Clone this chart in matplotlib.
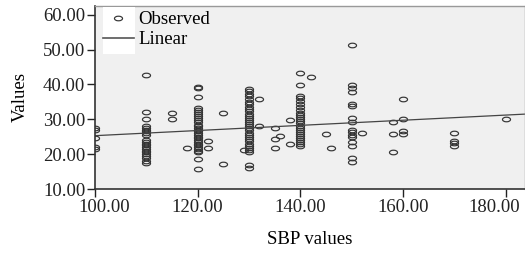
import numpy as np
import matplotlib
matplotlib.use("Agg")
import matplotlib.pyplot as plt
from matplotlib.path import Path
from matplotlib.patches import Rectangle
from matplotlib.lines import Line2D
from matplotlib.transforms import ScaledTranslation

# Observed values, grouped by SBP value
sbp_levels = [100, 110, 115, 117.9, 120, 122, 125, 129, 130, 132, 135, 136, 138, 140, 142,
              145, 146, 150, 152, 158, 160, 170, 180]
values_by_level = [
    [27.5, 27.0, 24.5, 22.0, 21.5],
    [42.8, 32.2, 30.2, 28.0, 27.5, 27.0, 26.5, 26.0, 25.5, 24.0, 23.5, 23.0, 22.5, 22.0,
     21.5, 21.0, 20.5, 20.0, 19.5, 19.0, 18.0, 17.5],
    [31.7, 30.0],
    [21.7],
    [39.3, 39.0, 36.5, 33.3, 32.8, 32.2, 31.6, 31.0, 30.4, 29.8, 29.2, 28.5, 28.0, 27.5,
     27.0, 26.5, 26.0, 25.5, 25.0, 24.5, 24.0, 23.5, 23.0, 22.5, 22.0, 21.5, 21.0, 20.6,
     18.5, 15.7],
    [23.9, 21.9],
    [31.7, 17.2],
    [21.2],
    [38.7, 38.0, 37.3, 36.6, 35.8, 35.0, 34.4, 33.6, 33.0, 32.4, 31.6, 31.0, 30.4, 29.8,
     29.2, 28.6, 28.0, 27.4, 26.8, 26.2, 25.6, 25.0, 24.4, 23.8, 23.0, 22.4, 21.8, 21.2,
     20.6, 16.9, 15.9],
    [35.9, 28.1],
    [27.4, 24.3, 21.9],
    [25.2],
    [29.8, 22.9],
    [43.2, 39.7, 36.7, 36.0, 35.2, 34.4, 33.4, 32.6, 31.8, 31.2, 30.6, 30.0, 29.4, 28.8,
     28.2, 27.6, 27.0, 26.4, 25.8, 25.2, 24.6, 24.0, 23.4, 22.8, 22.2],
    [42.1],
    [25.8],
    [21.7],
    [51.4, 39.9, 38.9, 37.8, 34.4, 33.8, 30.3, 29.3, 27.0, 26.3, 25.6, 25.0, 23.6, 22.2,
     18.8, 17.7],
    [26.2],
    [29.1, 25.8, 20.7],
    [35.9, 30.0, 26.7, 25.7],
    [26.0, 23.9, 23.1, 22.4],
    [30.1],
]

# Fitted linear line (endpoints)
fit_x = [100, 184]
fit_y = [25.3, 31.5]

xs = [lvl for lvl, vals in zip(sbp_levels, values_by_level) for _ in vals]
ys = [v for vals in values_by_level for v in vals]

# flat ellipse marker like the original
circ = Path.unit_circle()
ellipse = Path(circ.vertices * np.array([1.0, 0.57]), circ.codes)

plt.rcParams['font.family'] = ['Liberation Serif', 'DejaVu Serif']
FS = 13.5
MS = 5.8

fig = plt.figure(figsize=(5.25, 2.57), dpi=100)
ax = fig.add_axes([95 / 525, 1 - 189 / 257, 430 / 525, 183 / 257])
ax.set_facecolor('#f0f0f0')

ax.plot(xs, ys, linestyle='none', marker=ellipse, markersize=MS,
        markerfacecolor='none', markeredgecolor='#333333', markeredgewidth=0.85)
ax.plot(fit_x, fit_y, color='#444444', linewidth=0.9)

ax.set_xlim(100, 183.8)
ax.set_ylim(10, 62.5)
ax.set_xticks([100, 120, 140, 160, 180])
ax.set_yticks([10, 20, 30, 40, 50, 60])
ax.xaxis.set_major_formatter(matplotlib.ticker.FormatStrFormatter('%.2f'))
ax.yaxis.set_major_formatter(matplotlib.ticker.FormatStrFormatter('%.2f'))
ax.tick_params(axis='both', direction='out', length=6, width=1, labelsize=FS,
               colors='#222222', pad=1)
ax.tick_params(axis='x', pad=1)

# end labels are nudged inwards, as in the original
fig.canvas.draw()
xlabels = ax.get_xticklabels()
xlabels[0].set_transform(xlabels[0].get_transform() + ScaledTranslation(9 / 100, 0, fig.dpi_scale_trans))
xlabels[-1].set_transform(xlabels[-1].get_transform() + ScaledTranslation(-11 / 100, 0, fig.dpi_scale_trans))

for side in ['left', 'bottom']:
    ax.spines[side].set_color('#333333')
    ax.spines[side].set_linewidth(1.2)
for side in ['top', 'right']:
    ax.spines[side].set_color('#999999')
    ax.spines[side].set_linewidth(1.0)

ax.set_xlabel('SBP values', fontsize=FS, labelpad=11)
ax.set_ylabel('Values', fontsize=FS, labelpad=10)

# white patch behind the legend handles
ax.add_patch(Rectangle((8 / 430, 1 - 48 / 183), 32 / 430, 47 / 183, transform=ax.transAxes,
                       facecolor='white', edgecolor='none', zorder=3))
handles = [
    Line2D([], [], linestyle='none', marker=ellipse, markersize=MS, markerfacecolor='none',
           markeredgecolor='#333333', markeredgewidth=0.85),
    Line2D([], [], color='#555555', linewidth=1.2),
]
leg = ax.legend(handles, ['Observed', 'Linear'], loc='upper left',
                bbox_to_anchor=(8 / 430, 1 - 5 / 183), frameon=False, fontsize=FS,
                borderpad=0, borderaxespad=0, handlelength=1.65, handletextpad=0.25,
                labelspacing=0.15)
leg.set_zorder(4)

fig.savefig('out.png', dpi=100)
